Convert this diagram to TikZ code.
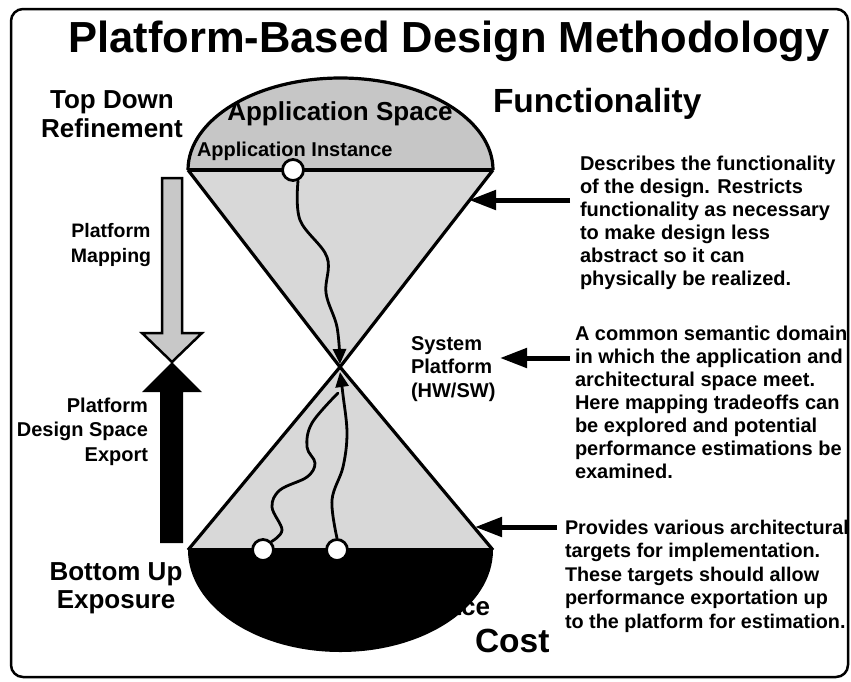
\documentclass[tikz,border=0pt]{standalone}
\usepackage{fontspec}
\setmainfont{Liberation Sans}
\usetikzlibrary{arrows.meta}
\definecolor{capgray}{RGB}{198,198,198}
\definecolor{trigray}{RGB}{216,216,216}
\definecolor{arrgray}{RGB}{200,200,200}
\newcommand{\txtblk}[2]{\begin{tabular}[t]{@{}#1@{}}#2\end{tabular}}
\begin{document}
\begin{tikzpicture}[x=1pt,y=-1pt,
  lbl/.style={inner sep=0pt, outer sep=0pt},
  ftitle/.style={font=\fontsize{43.5}{50}\selectfont\bfseries},
  fbig/.style={font=\fontsize{33.5}{38}\selectfont\bfseries},
  fmid/.style={font=\fontsize{26}{29}\selectfont\bfseries},
  fsmall/.style={font=\fontsize{20}{23}\selectfont\bfseries},
  edgeline/.style={line width=3.2pt, line join=round},
  flow/.style={line width=2.8pt, line cap=round},
  flowtip/.style={flow, -{Triangle[length=15pt,width=13pt]}},
  dot/.style={circle, draw, fill=white, line width=2.8pt, minimum size=21pt, inner sep=0pt},
  pointer/.style={line width=5pt, -{Triangle[length=27pt,width=19pt]}},
]
\useasboundingbox (0,0) rectangle (851,681);
\fill[white] (0,0) rectangle (851,681);
\draw[line width=2.5pt, rounded corners=12pt] (11,9) rectangle (848,677);

% hourglass geometry
\coordinate (tl) at (188,170);
\coordinate (tr) at (493,170);
\coordinate (bl) at (188,550);
\coordinate (br) at (493,550);
\coordinate (apex) at (340,367);

\fill[trigray] (tl) -- (tr) -- (apex) -- cycle;
\fill[trigray] (bl) -- (br) -- (apex) -- cycle;
\fill[capgray] (tr) arc[start angle=0, end angle=180, x radius=152.5pt, y radius=92pt] -- cycle;
\fill[black] (bl) arc[start angle=180, end angle=360, x radius=152.5pt, y radius=102pt] -- cycle;

\draw[edgeline] (tr) arc[start angle=0, end angle=180, x radius=152.5pt, y radius=92pt];
\draw[edgeline] (tl) -- (apex) -- (br);
\draw[edgeline] (tr) -- (apex) -- (bl);
\draw[line width=4pt] (tl) -- (tr);
\draw[line width=4pt] (bl) -- (br);

% label inside the black cap (only its end shows)
\node[lbl, fmid, anchor=base east, text=black] (archsp) at (490,615) {Architectural Space};

% instance dots
\node[dot] (ai) at (293,170) {};
\node[dot] (pi1) at (263,550) {};
\node[dot] (pi2) at (337,550) {};

% flows
\draw[flowtip] plot[smooth, tension=0.6] coordinates {(ai.-65) (300,220) (327,257) (326,293) (337,327) ([yshift=3pt]apex)};
\draw[flowtip] plot[smooth, tension=0.6] coordinates {(pi2.north) (332,500) (343,467) (347,433) (343,395) ([yshift=-5pt]apex)};
\draw[flow] plot[smooth, tension=0.6] coordinates {(pi1.45) (282,530) (272,507) (280,490) (307,477) (315,463) (307,447) (312,423) (338,393)};

% texts
\node[lbl, ftitle, anchor=base] (title) at (449,52) {Platform-Based Design Methodology};
\node[lbl, fmid, anchor=base] (topdown) at (112,108) {\txtblk{c}{Top Down\\Refinement}};
\node[lbl, fmid, anchor=base] (appspace) at (340,120) {Application Space};
\node[lbl, fbig, anchor=base west] (func) at (493,112) {Functionality};
\node[lbl, fsmall, anchor=base west] (appinst) at (197,156) {Application Instance};
\node[lbl, fbig, anchor=base west] (cost) at (475,652) {Cost};
\node[lbl, font=\fontsize{19.5}{25}\selectfont\bfseries, anchor=base] (pmap) at (111,237) {\txtblk{c}{Platform\\Mapping}};
\node[lbl, font=\fontsize{20}{24.5}\selectfont\bfseries, anchor=base east] (pdse) at (148,412) {\txtblk{r}{Platform\\Design Space\\Export}};
\node[lbl, font=\fontsize{26}{28}\selectfont\bfseries, anchor=base] (bu) at (116,580) {\txtblk{c}{Bottom Up\\Exposure}};
\node[lbl, font=\fontsize{20}{23.5}\selectfont\bfseries, anchor=base west] (sysp) at (411,350) {\txtblk{l}{System\\Platform\\(HW/SW)}};

\node[lbl, fsmall, anchor=base west] (d1) at (580,170) {\txtblk{l}{Describes the functionality\\of the design. Restricts\\functionality as necessary\\to make design less\\abstract so it can\\physically be realized.}};
\node[lbl, font=\fontsize{20}{23}\selectfont\bfseries, anchor=base west] (d2) at (575,340) {\txtblk{l}{A common semantic domain\\in which the application and\\architectural space meet.\\Here mapping tradeoffs can\\be explored and potential\\performance estimations be\\examined.}};
\node[lbl, font=\fontsize{19.8}{23.5}\selectfont\bfseries, anchor=base west] (d3) at (565,534) {\txtblk{l}{Provides various architectural\\targets for implementation.\\These targets should allow\\performance exportation up\\to the platform for estimation.}};

% left refinement arrows
\draw[line width=2.5pt, fill=arrgray, line join=miter] (162,178) -- (182,178) -- (182,333) -- (202,333) -- (172,362) -- (142,333) -- (162,333) -- cycle;
\fill[black] (172,362) -- (202,392) -- (183,392) -- (183,543) -- (160,543) -- (160,392) -- (142,392) -- cycle;

% pointers
\coordinate (e1) at (469,200);
\coordinate (e2) at (500,358);
\coordinate (e3) at (475,527);
\draw[pointer] ([xshift=-10pt]d1.west |- e1) -- (e1);
\draw[pointer] ([xshift=-5pt]d2.west |- e2) -- (e2);
\draw[pointer] ([xshift=-8pt]d3.west |- e3) -- (e3);
\end{tikzpicture}
\end{document}
